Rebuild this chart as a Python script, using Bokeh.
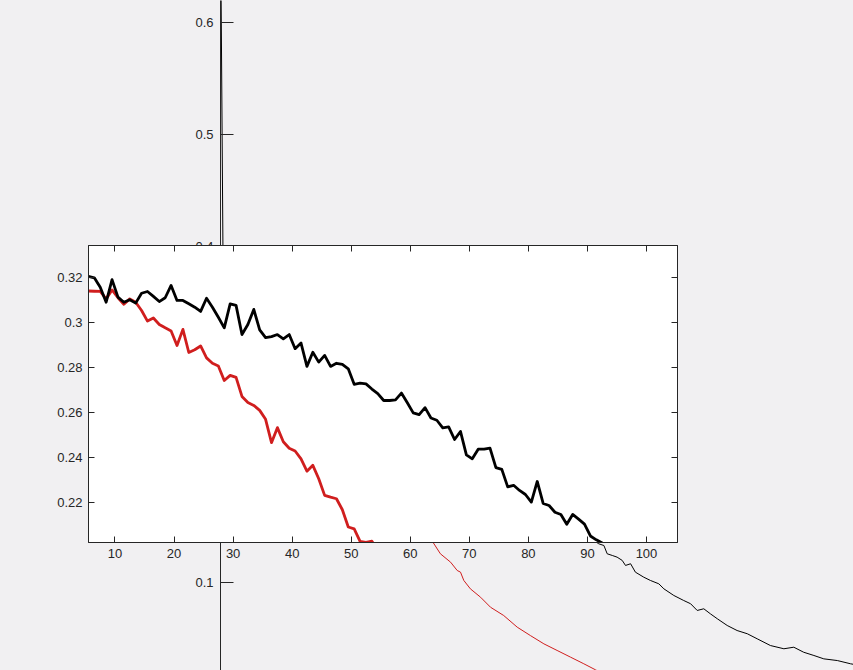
from bokeh.plotting import figure
from bokeh.models import Range1d, FixedTicker, LinearAxis
from bokeh.embed import file_html
from bokeh.resources import INLINE

BG = "#f1f0f2"
INK = "#262626"
FONT = "Liberation Sans"
RED = "#d01e1e"

# ---------------- inset data (zoomed view) ----------------
inset_black = [0.3206, 0.3200, 0.3158, 0.3091, 0.3192, 0.3114, 0.3091, 0.3102, 0.3087, 0.3131,
               0.3139, 0.3117, 0.3094, 0.3111, 0.3166, 0.3099, 0.3099, 0.3084, 0.3069, 0.3050,
               0.3109, 0.3069, 0.3024, 0.2977, 0.3084, 0.3077, 0.2947, 0.2992, 0.3059, 0.2968,
               0.2933, 0.2938, 0.2947, 0.2928, 0.2947, 0.2884, 0.2909, 0.2805, 0.2868, 0.2824,
               0.2854, 0.2805, 0.2819, 0.2814, 0.2794, 0.2725, 0.2730, 0.2727, 0.2704, 0.2684,
               0.2653, 0.2653, 0.2656, 0.2686, 0.2643, 0.2598, 0.2590, 0.2621, 0.2575, 0.2565,
               0.2531, 0.2535, 0.2479, 0.2515, 0.2411, 0.2393, 0.2436, 0.2436, 0.2441, 0.2354,
               0.2346, 0.2268, 0.2275, 0.2252, 0.2234, 0.2200, 0.2292, 0.2194, 0.2185, 0.2155,
               0.2145, 0.2101, 0.2145, 0.2124, 0.2102, 0.2049, 0.2032, 0.2018, 0.1995]
inset_red = [0.3141, 0.3140, 0.3139, 0.3106, 0.3146, 0.3111, 0.3082, 0.3106, 0.3091, 0.3054,
             0.3007, 0.3021, 0.2992, 0.2977, 0.2963, 0.2898, 0.2970, 0.2867, 0.2879, 0.2896,
             0.2843, 0.2819, 0.2807, 0.2742, 0.2765, 0.2756, 0.2671, 0.2644, 0.2631, 0.2609,
             0.2569, 0.2465, 0.2532, 0.2469, 0.2440, 0.2428, 0.2393, 0.2338, 0.2364, 0.2304,
             0.2230, 0.2222, 0.2215, 0.2166, 0.2089, 0.2081, 0.2025, 0.2021, 0.2026, 0.1985]
inset_x_black = [i + 0.5 for i in range(5, 5 + len(inset_black))]
inset_x_red = [i + 0.5 for i in range(5, 5 + len(inset_red))]

inset_xticks = [10, 20, 30, 40, 50, 60, 70, 80, 90, 100]
inset_yticks = [0.22, 0.24, 0.26, 0.28, 0.3, 0.32]
inset_ylabels = ["0.22", "0.24", "0.26", "0.28", "0.3", "0.32"]

# ---------------- main (background) data ----------------
main_black_x = [0, 1, 50, 100, 124.4, 126.1, 127.8, 128.9, 130.6, 132.2, 133.9, 135.0, 136.7, 138.3,
                141.1, 143.3, 146.1, 147.8, 151.1, 154.4, 156.7, 158.9, 161.1, 163.3, 165.6,
                168.9, 172.2, 175.6, 178.9, 183.3, 187.8, 191.1, 194.4, 197.8, 201.1, 205.6,
                210.0, 213.0]
main_black_y = [0.70, 0.33, 0.24, 0.17, 0.1378, 0.1348, 0.1333, 0.1259, 0.1244, 0.1229, 0.1200,
                0.1155, 0.1170, 0.1095, 0.1050, 0.1021, 0.0991, 0.0946, 0.0887, 0.0842, 0.0813,
                0.0753, 0.0768, 0.0723, 0.0679, 0.0619, 0.0574, 0.0545, 0.0500, 0.0440, 0.0411,
                0.0425, 0.0380, 0.0351, 0.0321, 0.0306, 0.0277, 0.0262]
main_red_x = [1, 30, 55, 70.0, 73.3, 76.7, 78.9, 80.0, 81.1, 83.3, 86.7, 90.0, 94.4, 98.9,
              103.3, 107.8, 112.2, 116.7, 121.1, 125.0, 126.7]
main_red_y = [0.33, 0.25, 0.18, 0.1396, 0.1259, 0.1184, 0.1110, 0.1095, 0.1021, 0.0946,
              0.0871, 0.0782, 0.0708, 0.0604, 0.0529, 0.0455, 0.0396, 0.0336, 0.0277, 0.0223,
              0.0199]
main_yticks = [0.1, 0.2, 0.3, 0.4, 0.5, 0.6]

# ---------------- main figure ----------------
p = figure(width=853, height=670, x_range=Range1d(0, 211), y_range=Range1d(0.0217, 0.61991),
           x_axis_location=None, y_axis_location="left",
           min_border_left=220, min_border_right=0, min_border_top=0, min_border_bottom=0,
           background_fill_color=BG, border_fill_color=BG, outline_line_color=None,
           output_backend="svg", toolbar_location=None)
p.grid.visible = False
ya = p.yaxis[0]
ya.ticker = FixedTicker(ticks=main_yticks)
ya.axis_line_color = INK
ya.major_tick_line_color = INK
ya.major_tick_in = 13
ya.major_tick_out = 0
ya.minor_tick_line_color = None
ya.major_label_standoff = 7
ya.major_label_text_font = FONT
ya.major_label_text_font_size = "13px"
ya.major_label_text_color = INK

p.line(main_red_x, main_red_y, line_color=RED, line_width=1, line_join="round")
p.line(main_black_x, main_black_y, line_color="black", line_width=1, line_join="round")

# ---------------- inset figure ----------------
q = figure(width=677, height=357, x_range=Range1d(5.513, 105.25), y_range=Range1d(0.2020, 0.33439),
           min_border_left=48, min_border_right=40, min_border_top=30, min_border_bottom=30,
           background_fill_color="white", border_fill_alpha=0, border_fill_color=None,
           outline_line_color=INK, outline_line_width=1,
           output_backend="svg", toolbar_location=None)
q.grid.visible = False

def style_axis(ax, ticks, show_labels):
    ax.ticker = FixedTicker(ticks=ticks)
    ax.axis_line_color = INK
    ax.major_tick_line_color = INK
    ax.major_tick_in = 6
    ax.major_tick_out = 0
    ax.minor_tick_line_color = None
    ax.major_label_text_font = FONT
    if show_labels:
        ax.major_label_text_color = INK
        ax.major_label_text_font_size = "13px"
        ax.major_label_standoff = 6
    else:
        ax.major_label_text_color = None
        ax.major_label_text_font_size = "8px"
        ax.major_label_standoff = 0

style_axis(q.xaxis[0], inset_xticks, True)
style_axis(q.yaxis[0], inset_yticks, True)
q.yaxis[0].major_label_overrides = {t: s for t, s in zip(inset_yticks, inset_ylabels)}
top_ax = LinearAxis()
right_ax = LinearAxis()
q.add_layout(top_ax, "above")
q.add_layout(right_ax, "right")
style_axis(top_ax, inset_xticks, False)
style_axis(right_ax, inset_yticks, False)

q.line(inset_x_red, inset_red, line_color=RED, line_width=2.8, line_join="round")
q.line(inset_x_black, inset_black, line_color="black", line_width=2.8, line_join="round")

# inset frame sits at page pixels (88, 245)
q.styles = {"position": "absolute", "left": "40px", "top": "215px"}

html = file_html([p, q], INLINE)
html = html.replace(
    "</head>",
    "<style>html,body{margin:0;padding:0;overflow:hidden;background:%s;}</style></head>" % BG, 1)
open("out.html", "w").write(html)
